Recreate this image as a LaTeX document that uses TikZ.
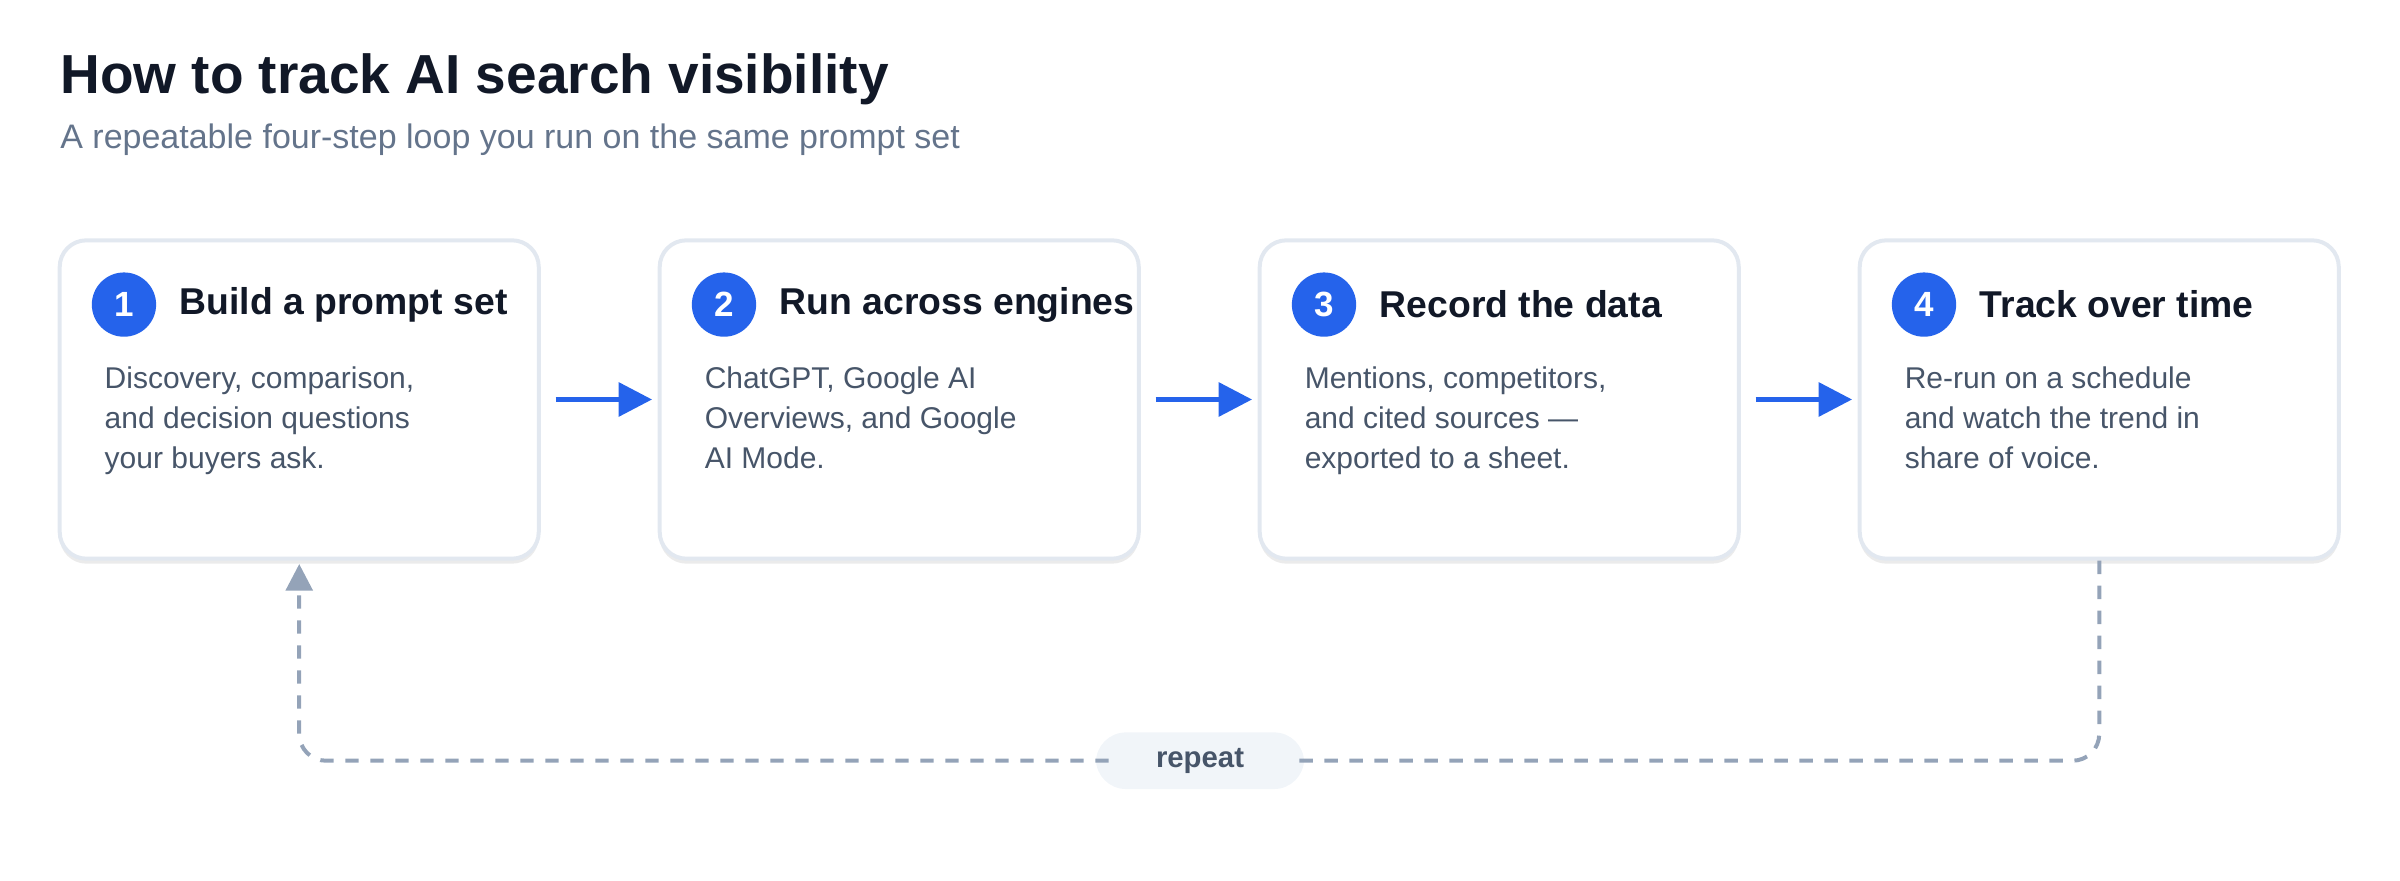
\documentclass[tikz,border=0pt]{standalone}
\usepackage{fontspec}
\setmainfont{Liberation Sans}
\usetikzlibrary{arrows.meta,shadows}
\definecolor{navy}{HTML}{111827}
\definecolor{sub}{HTML}{64748B}
\definecolor{body}{HTML}{475569}
\definecolor{bord}{HTML}{E2E8F0}
\definecolor{blue}{HTML}{2563EB}
\definecolor{loop}{HTML}{94A3B8}
\definecolor{pill}{HTML}{F1F5F9}
\begin{document}
\begin{tikzpicture}[x=0.4592pt,y=-0.4592pt,
  card/.style={draw=bord,line width=1.2pt,fill=white,rounded corners=8pt,minimum width=313*0.4592pt,minimum height=208*0.4592pt,inner sep=0pt,
    drop shadow={shadow xshift=0pt,shadow yshift=-1.5pt,opacity=0.08,fill=black}},
  num/.style={circle,fill=blue,text=white,font=\bfseries\fontsize{10.5}{12}\selectfont,minimum size=42*0.4592pt,inner sep=0pt},
  head/.style={anchor=west,text=navy,font=\bfseries\fontsize{11.2}{13}\selectfont,inner sep=0pt},
  txt/.style={anchor=north west,text=body,font=\fontsize{9}{12}\selectfont,align=left,inner sep=0pt},
  flow/.style={draw=blue,line width=1.5pt,-{Triangle[length=10pt,width=10pt]}},
  rep/.style={draw=loop,line width=1.2pt,dash pattern=on 4pt off 3.5pt,rounded corners=8pt}]
\useasboundingbox (0,0) rectangle (1568,575);
\node[anchor=base west,text=navy,font=\bfseries\fontsize{16.5}{20}\selectfont,inner sep=0pt] (title) at (39,61) {How to track AI search visibility};
\node[anchor=base west,text=sub,font=\fontsize{10.2}{12}\selectfont,inner sep=0pt] (subtitle) at (39,97) {A repeatable four-step loop you run on the same prompt set};
\foreach \i/\x/\h/\t in {1/39/Build a prompt set/{Discovery, comparison,\\and decision questions\\your buyers ask.},
  2/431/Run across engines/{ChatGPT, Google AI\\Overviews, and Google\\AI Mode.},
  3/823/Record the data/{Mentions, competitors,\\and cited sources —\\exported to a sheet.},
  4/1215/Track over time/{Re-run on a schedule\\and watch the trend in\\share of voice.}}{
  \node[card] (c\i) at (\x+156.5,261) {};
  \node[num] (n\i) at (\x+42,199) {\i};
  \node[head] (h\i) at (\x+78,199) {\h};
  \node[txt] (t\i) at (\x+29,239) {\t};
}
\coordinate (a1s) at (363,261); \coordinate (a1e) at (426,261);
\coordinate (a2s) at (755,261); \coordinate (a2e) at (818,261);
\coordinate (a3s) at (1147,261); \coordinate (a3e) at (1210,261);
\draw[flow] (a1s) -- (a1e);
\draw[flow] (a2s) -- (a2e);
\draw[flow] (a3s) -- (a3e);
\node[fill=pill,rounded corners=9pt,minimum width=136*0.4592pt,minimum height=37*0.4592pt,inner sep=0pt,text=body,font=\bfseries\fontsize{8.8}{10}\selectfont] (repeat) at (784,497) {repeat};
\draw[rep] (c4.south) |- ([xshift=-4pt]repeat.east);
\draw[rep,-{Triangle[length=8pt,width=8pt]}] ([xshift=4pt]repeat.west) -| ([yshift=-1pt]c1.south);
\end{tikzpicture}
\end{document}
